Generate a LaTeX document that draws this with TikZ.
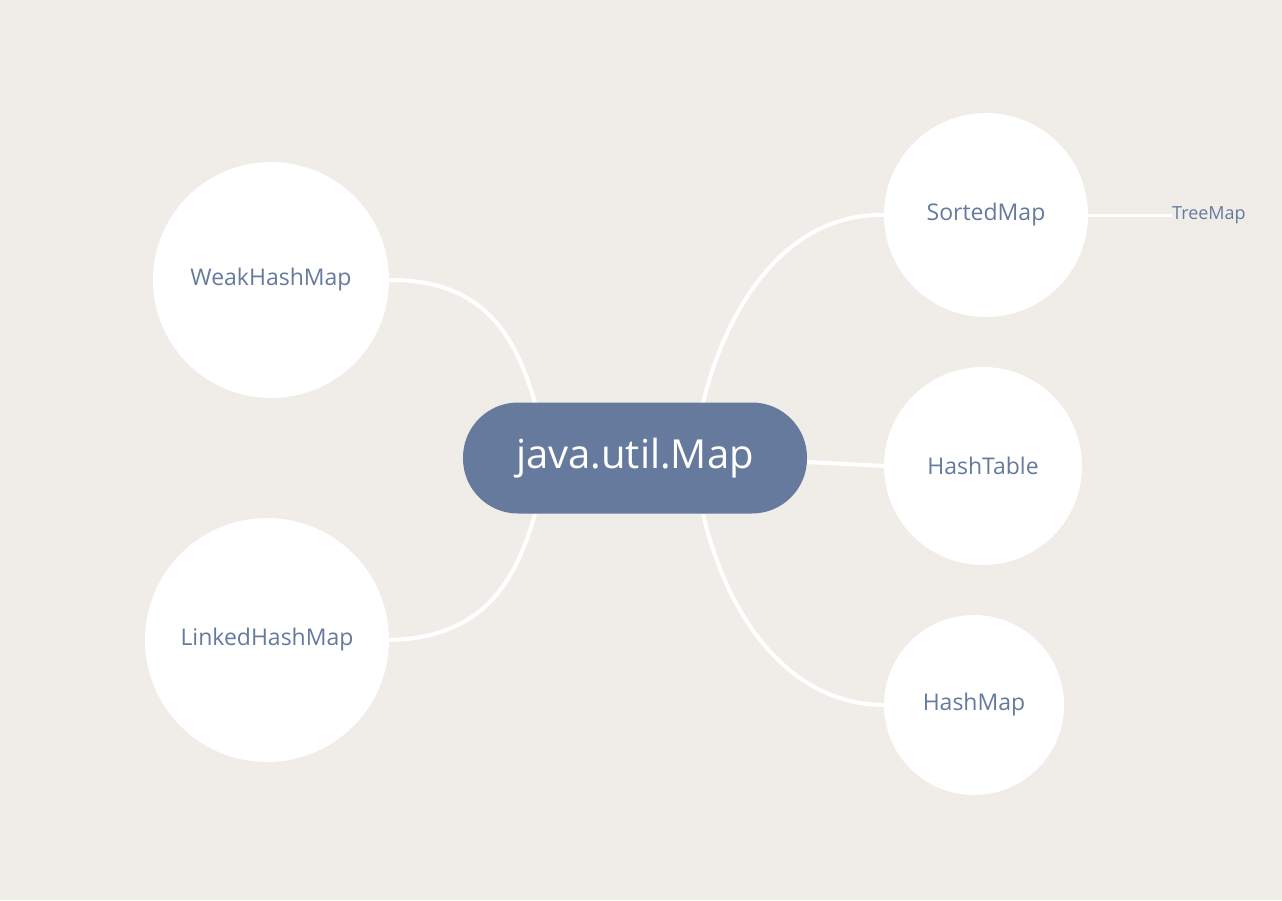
\documentclass[tikz,border=0pt]{standalone}
\usepackage{fontspec}
\setmainfont{Open Sans}
\definecolor{bg}{HTML}{F0EDE8}
\definecolor{mapblue}{HTML}{667A9E}
\tikzset{
  leaf/.style={circle, fill=white, draw=none, inner sep=0pt, text=mapblue, font=\fontsize{23}{27}\selectfont},
  conn/.style={draw=white, line width=4pt},
  rootbox/.style={rectangle, rounded corners=55pt, fill=mapblue, text=white, minimum width=344pt, minimum height=111pt, inner sep=0pt, font=\fontsize{40}{46}\selectfont},
}
\begin{document}
\begin{tikzpicture}[x=1pt,y=-1pt]
\fill[bg] (0,0) rectangle (1282,900);
\useasboundingbox (0,0) rectangle (1282,900);
\coordinate (lt) at (535,403);
\coordinate (lb) at (535,514);
\coordinate (rt) at (703,403);
\coordinate (rb) at (703,514);
\coordinate (mr) at (807,462);
\node[leaf, minimum size=236pt] (weak) at (271,280) {WeakHashMap};
\node[leaf, minimum size=244pt] (linked) at (267,640) {LinkedHashMap};
\node[leaf, minimum size=204pt] (sorted) at (986,215) {SortedMap};
\node[leaf, minimum size=198pt] (table) at (983,466) {HashTable};
\node[leaf, minimum size=180pt] (hash) at (974,705) {HashMap};
\node[text=mapblue, font=\fontsize{18}{21}\selectfont, anchor=west, inner sep=0pt] (tree) at (1172,215) {TreeMap};
\draw[conn] (weak.east) .. controls (490,279) and (518,345) .. (lt);
\draw[conn] (linked.east) .. controls (490,638) and (518,572) .. (lb);
\draw[conn] (rt) .. controls (728,300) and (790,213) .. (sorted.west);
\draw[conn] (rb) .. controls (728,620) and (790,704) .. (hash.west);
\draw[conn] (mr) -- (table.west);
\draw[draw=white, line width=3pt] (sorted.east) -- (tree.west);
\node[rootbox] (map) at (635,458) {java.util.Map};
\end{tikzpicture}
\end{document}
